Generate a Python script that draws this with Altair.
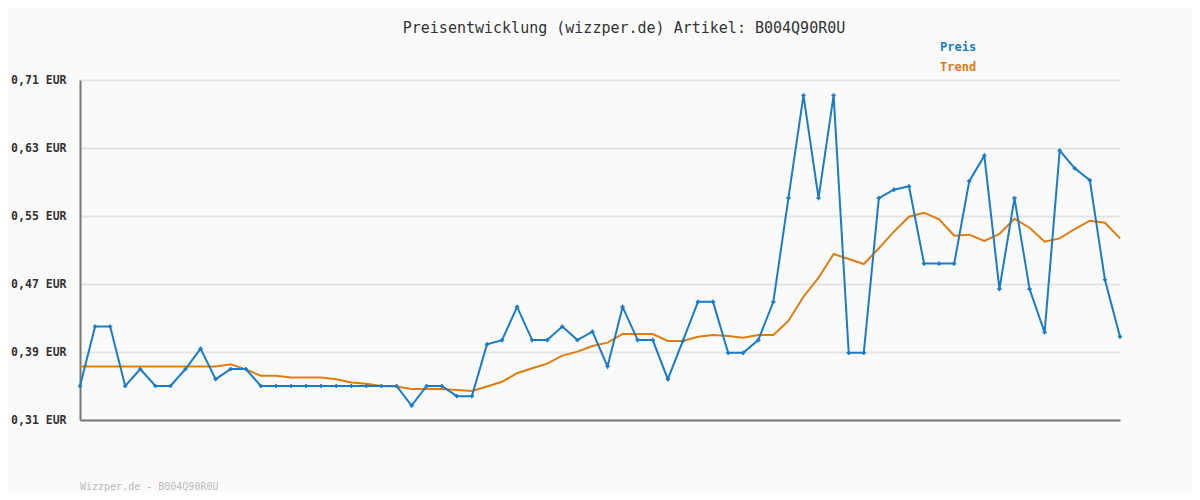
import altair as alt
import pandas as pd

preis = [0.35, 0.42, 0.42, 0.35, 0.37, 0.35, 0.35, 0.37, 0.394, 0.358,
         0.37, 0.37, 0.35, 0.35, 0.35, 0.35, 0.35, 0.35, 0.35, 0.35,
         0.35, 0.35, 0.327, 0.35, 0.35, 0.338, 0.338, 0.399, 0.404, 0.443,
         0.404, 0.404, 0.42, 0.404, 0.414, 0.373, 0.443, 0.404, 0.404, 0.358,
         0.403, 0.449, 0.449, 0.389, 0.389, 0.404, 0.449, 0.571, 0.692, 0.571,
         0.692, 0.389, 0.389, 0.571, 0.581, 0.585, 0.494, 0.494, 0.494, 0.591,
         0.621, 0.464, 0.571, 0.464, 0.413, 0.627, 0.606, 0.592, 0.475, 0.408]

trend = [0.373, 0.373, 0.373, 0.373, 0.373, 0.373, 0.373, 0.373, 0.373, 0.373,
         0.3755, 0.3696, 0.362, 0.362, 0.360, 0.360, 0.360, 0.358, 0.354, 0.3527,
         0.350, 0.3494, 0.3465, 0.3465, 0.3465, 0.3453, 0.3441, 0.3494, 0.355, 0.365,
         0.3708, 0.3763, 0.3857, 0.3904, 0.3971, 0.401, 0.4112, 0.4112, 0.4112, 0.403,
         0.403, 0.408, 0.410, 0.4088, 0.4068, 0.410, 0.410, 0.4265, 0.455, 0.4774,
         0.5053, 0.4994, 0.4935, 0.512, 0.5316, 0.5492, 0.5539, 0.5461, 0.5268, 0.528,
         0.5206, 0.5288, 0.5468, 0.5362, 0.5198, 0.5237, 0.5347, 0.5445, 0.5421, 0.5237]

y_ticks = [0.31, 0.39, 0.47, 0.55, 0.63, 0.71]
title_text = "Preisentwicklung (wizzper.de) Artikel: B004Q90R0U"
footer_text = "Wizzper.de - B004Q90R0U"
legend_labels = ["Preis", "Trend"]

BLUE = "#1a7cc6"
ORANGE = "#e07c0c"
FONT = "DejaVu Sans Mono"

df = pd.DataFrame({"i": list(range(len(preis))), "preis": preis, "trend": trend})

xs = alt.X("i:Q", scale=alt.Scale(domain=[0, len(preis) - 1], nice=False, zero=False),
           axis=alt.Axis(labels=False, ticks=False, grid=False, title=None,
                         domainColor="#777777", domainWidth=2))
ys = alt.Y("preis:Q", scale=alt.Scale(domain=[0.31, 0.71], nice=False, zero=False),
           axis=alt.Axis(values=y_ticks, title=None, ticks=False, grid=True,
                         gridColor="#e4e4e4", gridWidth=2,
                         domainColor="#777777", domainWidth=2,
                         labelExpr="replace(format(datum.value, '.2f'), '.', ',') + ' EUR'",
                         labelFont=FONT, labelFontSize=11.5, labelFontWeight="bold",
                         labelColor="#333333", labelPadding=14))

base = alt.Chart(df)

trend_line = base.mark_line(color=ORANGE, strokeWidth=2).encode(
    x=xs, y=alt.Y("trend:Q", scale=alt.Scale(domain=[0.31, 0.71], nice=False, zero=False)))
preis_line = base.mark_line(color=BLUE, strokeWidth=2).encode(x=xs, y=ys)
preis_pts = base.mark_point(color=BLUE, shape="cross", filled=True, size=18, opacity=1).encode(x=xs, y=ys)

title = alt.Chart(pd.DataFrame({"t": [title_text]})).mark_text(
    font=FONT, fontSize=15, color="#333333", align="center", baseline="middle"
).encode(text="t:N", x=alt.value(544), y=alt.value(-52))

legend = alt.Chart(pd.DataFrame({"t": legend_labels, "c": [BLUE, ORANGE],
                                 "yy": [-33, -13]})).mark_text(
    font=FONT, fontSize=12, fontWeight="bold", align="left", baseline="middle"
).encode(text="t:N", x=alt.value(860), y=alt.Y("yy:Q", scale=None),
         color=alt.Color("c:N", scale=None))

footer = alt.Chart(pd.DataFrame({"t": [footer_text]})).mark_text(
    font=FONT, fontSize=10, color="#bbbbbb", align="left", baseline="middle"
).encode(text="t:N", x=alt.value(0), y=alt.value(407))

chart = alt.layer(trend_line, preis_line, preis_pts, title, legend, footer).properties(
    width=1040, height=340,
    padding={"left": 72, "top": 72, "right": 72, "bottom": 72},
    autosize=alt.AutoSizeParams(type="none"),
    background="#fafafa",
).configure_view(stroke=None)

chart.save("out.html", embed_options={"renderer": "svg", "actions": False})
